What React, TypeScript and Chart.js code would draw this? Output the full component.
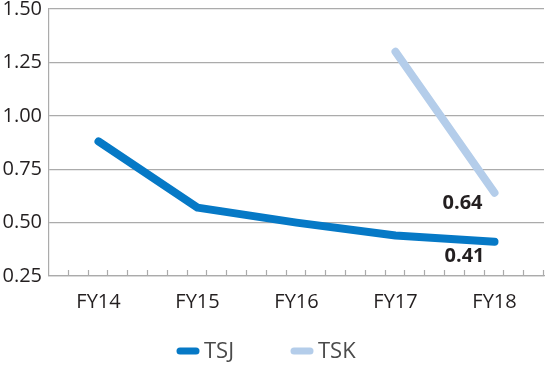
import React, { useEffect, useRef } from "react";
import { Chart, registerables } from "chart.js";

Chart.register(...registerables);

const categories = ["FY14", "FY15", "FY16", "FY17", "FY18"];
const tsjValues = [0.88, 0.57, 0.5, 0.44, 0.41];
const tskValues = [null, null, null, 1.3, 0.64];
const yTicks = [0.25, 0.5, 0.75, 1.0, 1.25, 1.5];
const seriesNames = ["TSJ", "TSK"];
const seriesColors = ["#0679c6", "#b4cdea"];

const FONT = "'Open Sans', sans-serif";
const GRID = "#ababab";
const TEXT = "#231f20";

const minorTicksPlugin = {
  id: "minorTicks",
  afterDatasetsDraw(chart: any) {
    const { ctx, chartArea } = chart;
    const x = chart.scales.x;
    const n = categories.length * 5;
    const step = (x.right - x.left) / n;
    ctx.save();
    ctx.strokeStyle = GRID;
    ctx.lineWidth = 1.2;
    ctx.beginPath();
    for (let i = 1; i <= n; i++) {
      const px = Math.round(x.left + step * i) - 0.5;
      ctx.moveTo(px, chartArea.bottom);
      ctx.lineTo(px, chartArea.bottom - 6);
    }
    ctx.stroke();
    ctx.restore();
  },
};

const valueLabelPlugin = {
  id: "valueLabels",
  afterDatasetsDraw(chart: any) {
    const { ctx } = chart;
    const last = categories.length - 1;
    const offsets = [
      { dx: -30, dy: 14 },
      { dx: -32, dy: 11 },
    ];
    ctx.save();
    ctx.font = `bold 20px ${FONT}`;
    ctx.fillStyle = TEXT;
    ctx.textAlign = "center";
    ctx.textBaseline = "middle";
    chart.data.datasets.forEach((ds: any, i: number) => {
      const v = ds.data[last];
      if (v == null) return;
      const px = chart.scales.x.getPixelForValue(last);
      const py = chart.scales.y.getPixelForValue(v);
      ctx.fillText(v.toFixed(2), px + offsets[i].dx, py + offsets[i].dy);
    });
    ctx.restore();
  },
};

const legendPlugin = {
  id: "customLegend",
  afterDraw(chart: any) {
    const { ctx } = chart;
    const y = 351;
    const starts = [180, 294];
    ctx.save();
    ctx.font = `22px ${FONT}`;
    ctx.textBaseline = "middle";
    ctx.textAlign = "left";
    chart.data.datasets.forEach((ds: any, i: number) => {
      const x0 = starts[i];
      ctx.strokeStyle = ds.borderColor;
      ctx.lineWidth = 7;
      ctx.lineCap = "round";
      ctx.beginPath();
      ctx.moveTo(x0, y);
      ctx.lineTo(x0 + 16, y);
      ctx.stroke();
      ctx.fillStyle = "#4a4a4a";
      ctx.fillText(ds.label, x0 + 24, y + 1);
    });
    ctx.restore();
  },
};

export default function App() {
  const ref = useRef<HTMLCanvasElement>(null);
  useEffect(() => {
    document.body.style.margin = "0";
    const chart = new Chart(ref.current as HTMLCanvasElement, {
      type: "line",
      data: {
        labels: categories,
        datasets: [
          {
            label: seriesNames[0],
            data: tsjValues,
            borderColor: seriesColors[0],
            backgroundColor: seriesColors[0],
            borderWidth: 8,
            borderCapStyle: "round",
            borderJoinStyle: "round",
            pointRadius: 0,
            tension: 0,
          },
          {
            label: seriesNames[1],
            data: tskValues,
            borderColor: seriesColors[1],
            backgroundColor: seriesColors[1],
            borderWidth: 8,
            borderCapStyle: "round",
            borderJoinStyle: "round",
            pointRadius: 0,
            tension: 0,
          },
        ],
      },
      options: {
        animation: false,
        responsive: false,
        maintainAspectRatio: false,
        layout: { padding: { top: 9, right: 1, left: 0, bottom: 52 } },
        plugins: {
          legend: { display: false },
          tooltip: { enabled: false },
        },
        scales: {
          x: {
            offset: true,
            grid: { display: false, drawTicks: false },
            border: { display: true, color: GRID, width: 1.2 },
            ticks: {
              color: TEXT,
              font: { family: FONT, size: 20 },
              padding: 14,
              maxRotation: 0,
            },
            afterFit(scale: any) {
              scale.height = 47;
              scale.paddingLeft = 0;
              scale.paddingRight = 0;
            },
          },
          y: {
            min: 0.25,
            max: 1.5,
            grid: { color: GRID, lineWidth: 1.2, drawTicks: false },
            border: { display: true, color: GRID, width: 1.2 },
            afterBuildTicks(scale: any) {
              scale.ticks = yTicks.map((v) => ({ value: v }));
            },
            ticks: {
              color: TEXT,
              font: { family: FONT, size: 20, lineHeight: 0.85 },
              padding: 7,
              callback: (v: any) => Number(v).toFixed(2),
            },
            afterFit(scale: any) {
              scale.width = 49;
              scale.paddingTop = 0;
              scale.paddingBottom = 0;
            },
          },
        },
      },
      plugins: [minorTicksPlugin, valueLabelPlugin, legendPlugin],
    } as any);
    return () => chart.destroy();
  }, []);
  return (
    <div style={{ width: 545, height: 375 }}>
      <canvas ref={ref} width={545} height={375} style={{ display: "block" }} />
    </div>
  );
}
